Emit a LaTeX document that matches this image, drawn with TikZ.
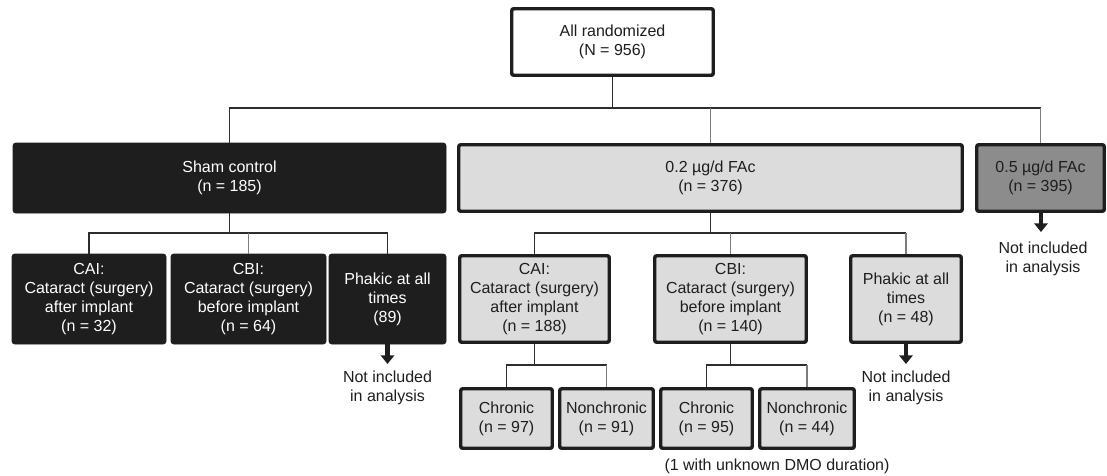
\documentclass[tikz,border=0pt]{standalone}
\usepackage{fontspec}
\setmainfont{Liberation Sans}
\usetikzlibrary{arrows.meta}
\definecolor{lightbox}{RGB}{220,220,220}
\definecolor{midbox}{RGB}{140,140,140}
\definecolor{darkbox}{RGB}{30,30,30}
\definecolor{lineDark}{RGB}{45,45,45}
\definecolor{lineGrey}{RGB}{125,125,125}
\begin{document}
\begin{tikzpicture}[x=0.75pt,y=-0.75pt,
  every node/.style={font=\fontsize{12}{14.25}\selectfont, align=center, inner sep=0pt},
  thickbox/.style 2 args={draw=darkbox, line width=2.6pt, rounded corners=1.5pt,
     minimum width={(#1-3.5)*0.75pt}, minimum height={(#2-3.5)*0.75pt}},
  shambox/.style 2 args={draw=darkbox, fill=darkbox, text=white, line width=0.5pt, rounded corners=2pt,
     minimum width={#1*0.75pt}, minimum height={#2*0.75pt}},
  greybox/.style 2 args={thickbox={#1}{#2}, fill=lightbox, text=darkbox},
  conn/.style={draw=lineDark, line width=1.1pt},
  conng/.style={draw=lineGrey, line width=1.3pt},
  exarrow/.style={draw=darkbox, line width=3.6pt, -{Triangle[length=6.5pt,width=10pt]}},
  note/.style={text=darkbox}
]
\useasboundingbox (0,0) rectangle (1107,475);

% level 1
\node[thickbox={205}{70}, fill=white, text=darkbox] (top) at (612.5,42) {All randomized\\(N = 956)};

% level 2
\node[shambox={433}{70}] (sham) at (229.5,178) {Sham control\\(n = 185)};
\node[greybox={507}{70}] (fac2) at (710.5,178) {0.2 µg/d FAc\\(n = 376)};
\node[thickbox={131}{70}, fill=midbox, text=darkbox] (fac5) at (1040.5,178) {0.5 µg/d FAc\\(n = 395)};

% level 3 sham
\node[shambox={154}{90}] (caiS) at (89,299) {CAI:\\Cataract (surgery)\\after implant\\(n = 32)};
\node[shambox={155}{90}] (cbiS) at (248.5,299) {CBI:\\Cataract (surgery)\\before implant\\(n = 64)};
\node[shambox={117}{90}] (phS) at (387.5,299) {Phakic at all\\times\\(89)};

% level 3 FAc
\node[greybox={153}{90}] (caiF) at (534.5,299) {CAI:\\Cataract (surgery)\\after implant\\(n = 188)};
\node[greybox={155}{90}] (cbiF) at (730.5,299) {CBI:\\Cataract (surgery)\\before implant\\(n = 140)};
\node[greybox={114}{90}] (phF) at (906,299) {Phakic at all\\times\\(n = 48)};

% level 4
\node[greybox={95}{63}] (chr1) at (506.5,418.5) {Chronic\\(n = 97)};
\node[greybox={97}{63}] (non1) at (606.5,418.5) {Nonchronic\\(n = 91)};
\node[greybox={95}{63}] (chr2) at (706.5,418.5) {Chronic\\(n = 95)};
\node[greybox={98}{63}] (non2) at (807,418.5) {Nonchronic\\(n = 44)};

% notes
\node[note] (nS) at (387.5,388) {Not included\\in analysis};
\node[note] (nF) at (906,388) {Not included\\in analysis};
\node[note] (n5) at (1043,258.5) {Not included\\in analysis};
\node[note] (dmo) at (777,466) {(1 with unknown DMO duration)};

% junction coordinates
\coordinate (j1) at (612.5,108);
\coordinate (j2) at (229.5,233);
\coordinate (j3) at (710.5,233);
\coordinate (j4) at (534.5,365);
\coordinate (j5) at (730.5,365);

% level 1 -> 2
\draw[conn] (top.south) -- (j1);
\draw[conn] (sham.north) -- (sham.north |- j1) -- (fac5.north |- j1);
\draw[conng] (fac2.north |- j1) -- (fac2.north);
\draw[conng] (fac5.north |- j1) -- (fac5.north);

% sham -> level 3
\draw[conn] (sham.south) -- (j2);
\draw[conn] (caiS.north) -- (caiS.north |- j2) -- (phS.north |- j2) -- (phS.north);
\draw[conng] (cbiS.north |- j2) -- (cbiS.north);

% FAc -> level 3
\draw[conn] (fac2.south) -- (j3);
\draw[conn] (caiF.north) -- (caiF.north |- j3) -- (phF.north |- j3);
\draw[conng] (cbiF.north |- j3) -- (cbiF.north);
\draw[conng] (phF.north |- j3) -- (phF.north);

% level 3 -> 4
\draw[conn] (caiF.south) -- (j4);
\draw[conn] (chr1.north) -- (chr1.north |- j4) -- (non1.north |- j4);
\draw[conng] (non1.north |- j4) -- (non1.north);
\draw[conn] (cbiF.south) -- (j5);
\draw[conn] (chr2.north) -- (chr2.north |- j5) -- (non2.north |- j5);
\draw[conng] (non2.north |- j5) -- (non2.north);

% exclusion arrows
\coordinate (aS) at (387.5,364);
\coordinate (aF) at (906,364);
\coordinate (a5) at (1041,232);
\draw[exarrow] (phS.south) -- (aS);
\draw[exarrow] (phF.south) -- (aF);
\draw[exarrow] (fac5.south -| a5) -- (a5);
\end{tikzpicture}
\end{document}
